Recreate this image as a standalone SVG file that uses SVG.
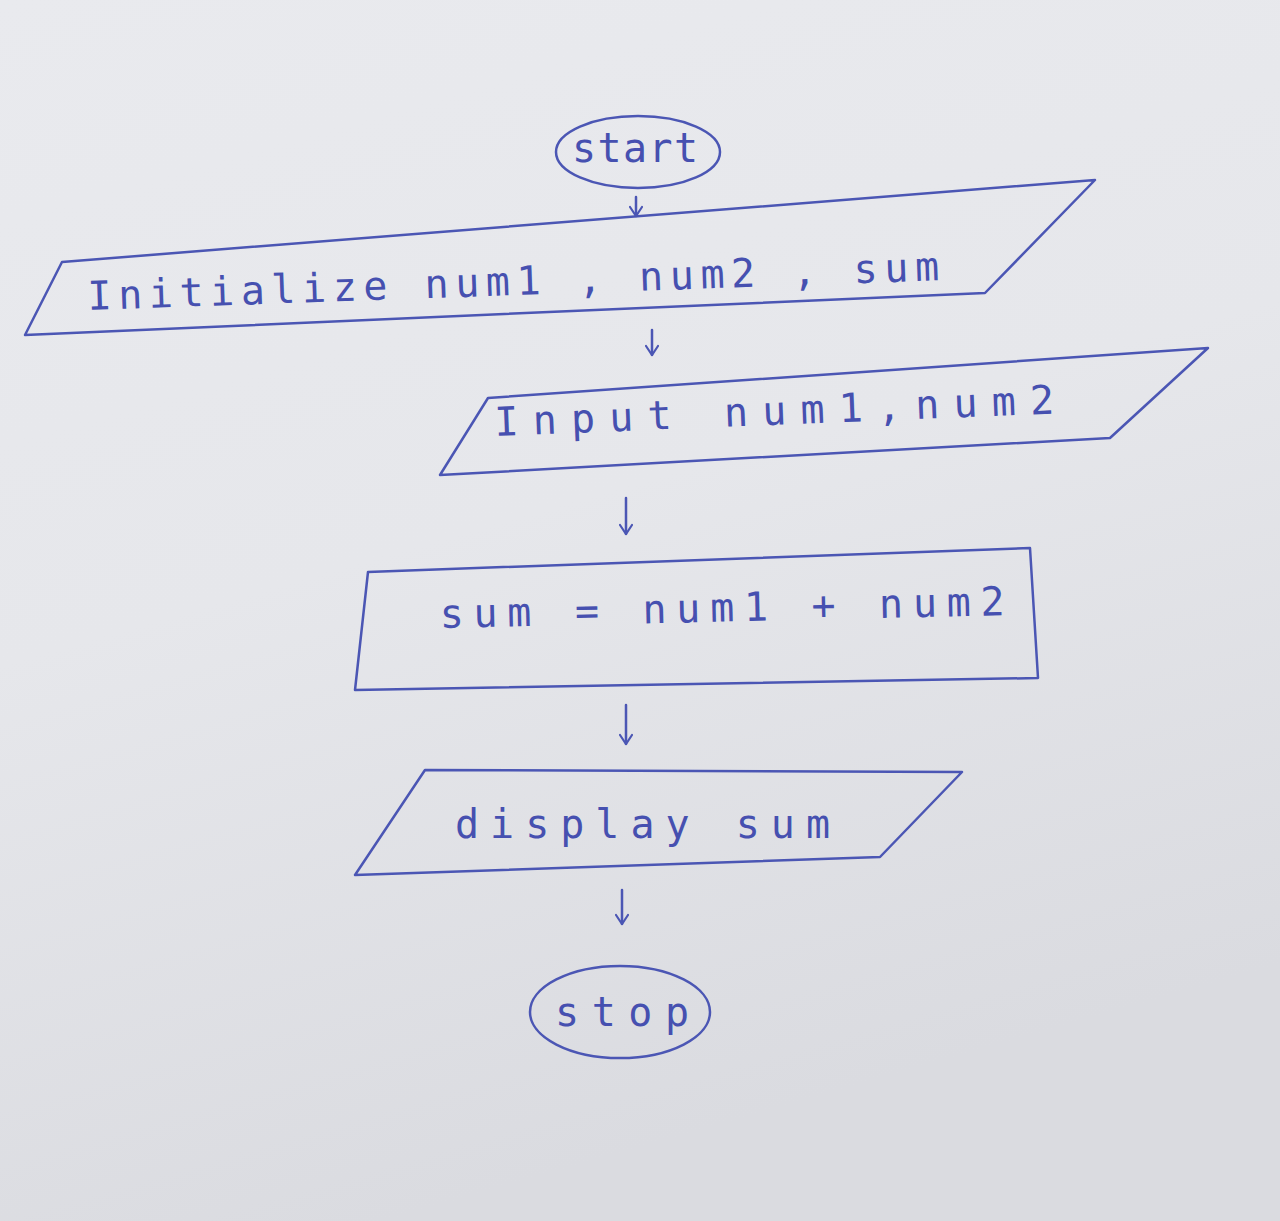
<svg xmlns="http://www.w3.org/2000/svg" width="1280" height="1221" viewBox="0 0 1280 1221">
<defs>
<linearGradient id="bg" x1="0" y1="0" x2="0.3" y2="1">
<stop offset="0" stop-color="#e9eaee"/>
<stop offset="0.5" stop-color="#e6e7eb"/>
<stop offset="1" stop-color="#dadbe0"/>
</linearGradient>
<marker id="ah" viewBox="0 0 12 14" refX="11" refY="7" markerWidth="12" markerHeight="14" markerUnits="userSpaceOnUse" orient="auto">
<path d="M2,1 L11,7 L2,13" fill="none" stroke="#4b56b4" stroke-width="2.2" stroke-linecap="round"/>
</marker>
<style>
.s{fill:none;stroke:#4b56b4;stroke-width:2.5;stroke-linejoin:round}
.t{font-family:"DejaVu Sans Mono","Liberation Mono",monospace;fill:#4650b0;font-size:40px}
.c{stroke:#4b56b4;stroke-width:2.5;fill:none;stroke-linecap:round}
</style>
</defs>
<rect width="1280" height="1221" fill="url(#bg)"/>
<g id="start">
<ellipse class="s" cx="638" cy="152" rx="82" ry="36"/>
<text class="t" x="572" y="162" font-size="38" textLength="126" lengthAdjust="spacing">start</text>
</g>
<g id="initialize">
<polygon class="s" points="62,262 1095,180 985,293 25,335"/>
<text class="t" x="88" y="310" textLength="852" lengthAdjust="spacing" transform="rotate(-2 88 310)">Initialize num1 , num2 , sum</text>
</g>
<g id="input">
<polygon class="s" points="488,398 1208,348 1110,438 440,475"/>
<text class="t" x="495" y="436" font-size="42" textLength="560" lengthAdjust="spacing" transform="rotate(-2.3 495 436)">Input num1,num2</text>
</g>
<g id="process">
<polygon class="s" points="368,572 1030,548 1038,678 355,690"/>
<text class="t" x="440" y="628" font-size="42" textLength="565" lengthAdjust="spacing" transform="rotate(-1.3 440 628)">sum = num1 + num2</text>
</g>
<g id="display">
<polygon class="s" points="425,770 962,772 880,857 355,875"/>
<text class="t" x="455" y="838" font-size="46" textLength="375" lengthAdjust="spacing">display sum</text>
</g>
<g id="stop">
<ellipse class="s" cx="620" cy="1012" rx="90" ry="46"/>
<text class="t" x="555" y="1026" font-size="46" textLength="134" lengthAdjust="spacing">stop</text>
</g>
<g id="connectors">
<line class="c" x1="636" y1="197" x2="636" y2="216" marker-end="url(#ah)"/>
<line class="c" x1="652" y1="330" x2="652" y2="355" marker-end="url(#ah)"/>
<line class="c" x1="626" y1="498" x2="626" y2="534" marker-end="url(#ah)"/>
<line class="c" x1="626" y1="705" x2="626" y2="744" marker-end="url(#ah)"/>
<line class="c" x1="622" y1="890" x2="622" y2="924" marker-end="url(#ah)"/>
</g>
</svg>
